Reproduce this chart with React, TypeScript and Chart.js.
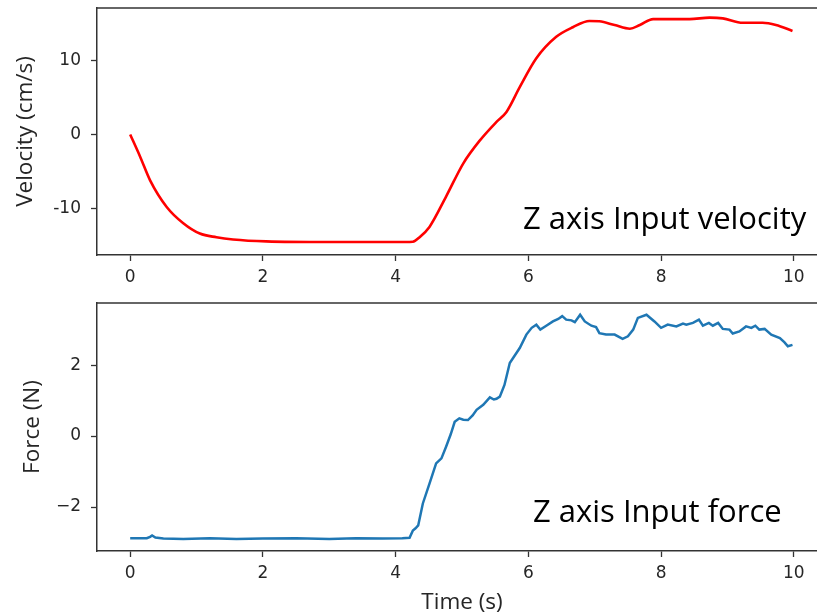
import React, { useEffect, useRef } from "react";
import { Chart, registerables } from "chart.js";

Chart.register(...registerables);

// ---- Data ----
const velocityTime = [0, 0.15, 0.3, 0.55, 0.8, 1.05, 1.3, 1.55, 2.05, 3.0, 4.0, 4.26, 4.36, 4.51, 4.76, 5.02, 5.27, 5.52, 5.67, 5.87, 6.12, 6.42, 6.67, 6.92, 7.07, 7.3, 7.53, 7.68, 7.88, 8.43, 8.73, 8.93, 9.23, 9.53, 9.73, 9.98];
const velocity = [0, -3.0, -6.2, -9.8, -12.0, -13.4, -13.9, -14.2, -14.46, -14.55, -14.55, -14.5, -13.9, -12.5, -8.4, -3.9, -0.8, 1.7, 3.05, 6.4, 10.3, 13.2, 14.5, 15.35, 15.3, 14.8, 14.3, 14.8, 15.6, 15.6, 15.8, 15.7, 15.1, 15.1, 14.8, 14.0];

const forceTime = [0, 0.25, 0.3, 0.33, 0.38, 0.5, 0.8, 1.2, 1.6, 2.0, 2.5, 3.0, 3.4, 3.8, 4.1, 4.21, 4.26, 4.3, 4.34, 4.41, 4.51, 4.61, 4.69, 4.76, 4.83, 4.89, 4.96, 5.02, 5.09, 5.16, 5.22, 5.32, 5.42, 5.48, 5.52, 5.57, 5.64, 5.72, 5.77, 5.87, 5.97, 6.05, 6.12, 6.18, 6.27, 6.37, 6.45, 6.51, 6.57, 6.65, 6.7, 6.78, 6.85, 6.95, 7.02, 7.07, 7.17, 7.3, 7.42, 7.5, 7.58, 7.65, 7.78, 7.9, 8.0, 8.1, 8.23, 8.33, 8.38, 8.48, 8.57, 8.63, 8.72, 8.78, 8.86, 8.93, 9.03, 9.08, 9.18, 9.28, 9.36, 9.42, 9.48, 9.56, 9.66, 9.79, 9.86, 9.91, 9.98];
const force = [-2.88, -2.88, -2.84, -2.8, -2.86, -2.89, -2.9, -2.88, -2.9, -2.89, -2.88, -2.9, -2.88, -2.89, -2.88, -2.87, -2.66, -2.6, -2.52, -1.9, -1.34, -0.77, -0.63, -0.3, 0.05, 0.4, 0.5, 0.46, 0.45, 0.58, 0.74, 0.88, 1.09, 1.03, 1.05, 1.11, 1.44, 2.06, 2.2, 2.48, 2.86, 3.05, 3.14, 3.0, 3.11, 3.23, 3.3, 3.38, 3.28, 3.26, 3.21, 3.42, 3.23, 3.11, 3.07, 2.9, 2.86, 2.86, 2.74, 2.81, 3.0, 3.33, 3.42, 3.23, 3.05, 3.14, 3.09, 3.17, 3.14, 3.19, 3.28, 3.11, 3.19, 3.11, 3.19, 3.02, 3.0, 2.89, 2.95, 3.09, 3.05, 3.11, 3.0, 3.02, 2.86, 2.76, 2.64, 2.53, 2.57];

const timeTicks = [0, 2, 4, 6, 8, 10];
const velocityTicks = [-10, 0, 10];
const forceTicks = [-2, 0, 2];

const TICK_FONT = { family: "'DejaVu Sans'", size: 17 };
const TITLE_FONT = { family: "'Open Sans'", size: 22.5, lineHeight: 1 };
const AXIS_COLOR = "#333333";
const TEXT_COLOR = "#262626";
const VIEW_W = 817;
const CANVAS_W = 840;

type PanelCfg = {
  xs: number[];
  ys: number[];
  color: string;
  lineWidth: number;
  smooth: boolean;
  yMin: number;
  yMax: number;
  yTicks: number[];
  minusSign: string;
  yTitle: string;
  yTitlePad: number;
  xTitle: string | null;
  padTop: number;
  xAxisHeight: number;
  note: string;
  noteX: number;
  noteY: number;
};

function makeChart(canvas: HTMLCanvasElement, c: PanelCfg) {
  const frame = {
    id: "frameAndNote",
    afterDraw(chart: any) {
      const ctx = chart.ctx;
      const a = chart.chartArea;
      ctx.save();
      ctx.strokeStyle = AXIS_COLOR;
      ctx.lineWidth = 1.5;
      ctx.beginPath();
      ctx.moveTo(a.left, a.top);
      ctx.lineTo(a.right, a.top);
      ctx.stroke();
      ctx.fillStyle = "#000000";
      ctx.font = "31px 'Open Sans'";
      ctx.textAlign = "left";
      ctx.textBaseline = "alphabetic";
      ctx.fillText(c.note, c.noteX, c.noteY);
      ctx.restore();
    },
  };
  return new Chart(canvas, {
    type: "line",
    data: {
      datasets: [
        {
          data: c.xs.map((x, i) => ({ x, y: c.ys[i] })),
          borderColor: c.color,
          borderWidth: c.lineWidth,
          pointRadius: 0,
          fill: false,
          clip: false,
          tension: c.smooth ? 0.4 : 0,
          cubicInterpolationMode: c.smooth ? "monotone" : "default",
        } as any,
      ],
    },
    options: {
      responsive: false,
      animation: false,
      devicePixelRatio: 1,
      layout: { padding: { top: c.padTop, left: 0, right: 13, bottom: 0 } },
      plugins: { legend: { display: false }, tooltip: { enabled: false } },
      scales: {
        x: {
          type: "linear",
          min: -0.5,
          max: 10.5,
          afterBuildTicks: (s: any) => {
            s.ticks = timeTicks.map((v) => ({ value: v }));
          },
          afterFit: (s: any) => {
            s.height = c.xAxisHeight;
            s.paddingLeft = 0;
            s.paddingRight = 0;
          },
          ticks: {
            font: TICK_FONT,
            color: TEXT_COLOR,
            padding: 6,
            maxRotation: 0,
            callback: (v: any) => String(v),
          },
          grid: {
            display: true,
            drawOnChartArea: false,
            drawTicks: true,
            tickLength: 6,
            tickColor: AXIS_COLOR,
            tickWidth: 1.3,
          },
          border: { display: true, color: AXIS_COLOR, width: 1.5 },
          title: c.xTitle
            ? {
                display: true,
                text: c.xTitle,
                font: TITLE_FONT,
                color: TEXT_COLOR,
                padding: { top: 0, bottom: 0 },
              }
            : { display: false },
        },
        y: {
          type: "linear",
          min: c.yMin,
          max: c.yMax,
          afterBuildTicks: (s: any) => {
            s.ticks = c.yTicks.map((v) => ({ value: v }));
          },
          afterFit: (s: any) => {
            s.width = 97;
            s.paddingTop = 0;
            s.paddingBottom = 0;
          },
          ticks: {
            font: TICK_FONT,
            color: TEXT_COLOR,
            padding: 10,
            callback: (v: any) => (v < 0 ? c.minusSign + Math.abs(v) : String(v)),
          },
          grid: {
            display: true,
            drawOnChartArea: false,
            drawTicks: true,
            tickLength: 6,
            tickColor: AXIS_COLOR,
            tickWidth: 1.3,
          },
          border: { display: true, color: AXIS_COLOR, width: 1.5 },
          title: {
            display: true,
            text: c.yTitle,
            font: TITLE_FONT,
            color: TEXT_COLOR,
            padding: { top: c.yTitlePad, bottom: 0 },
          },
        },
      },
    },
    plugins: [frame],
  } as any);
}

export default function App() {
  const topRef = useRef<HTMLCanvasElement>(null);
  const botRef = useRef<HTMLCanvasElement>(null);

  useEffect(() => {
    const top = makeChart(topRef.current!, {
      xs: velocityTime,
      ys: velocity,
      color: "#ff0000",
      lineWidth: 2.6,
      smooth: true,
      yMin: -16.3,
      yMax: 17.1,
      yTicks: velocityTicks,
      minusSign: "-",
      yTitle: "Velocity (cm/s)",
      yTitlePad: 14,
      xTitle: null,
      padTop: 8,
      xAxisHeight: 35,
      note: "Z axis Input velocity",
      noteX: 523,
      noteY: 229,
    });
    const bot = makeChart(botRef.current!, {
      xs: forceTime,
      ys: force,
      color: "#1f77b4",
      lineWidth: 2.5,
      smooth: false,
      yMin: -3.24,
      yMax: 3.75,
      yTicks: forceTicks,
      minusSign: "\u2212",
      yTitle: "Force (N)",
      yTitlePad: 21,
      xTitle: "Time (s)",
      padTop: 13,
      xAxisHeight: 63,
      note: "Z axis Input force",
      noteX: 533,
      noteY: 232,
    });
    return () => {
      top.destroy();
      bot.destroy();
    };
  }, []);

  return (
    <div
      style={{
        position: "absolute",
        left: 0,
        top: 0,
        width: VIEW_W,
        height: 614,
        overflow: "hidden",
        background: "#ffffff",
      }}
    >
      <canvas
        ref={topRef}
        width={CANVAS_W}
        height={290}
        style={{ position: "absolute", left: 0, top: 0, width: CANVAS_W, height: 290 }}
      />
      <canvas
        ref={botRef}
        width={CANVAS_W}
        height={324}
        style={{ position: "absolute", left: 0, top: 290, width: CANVAS_W, height: 324 }}
      />
    </div>
  );
}
